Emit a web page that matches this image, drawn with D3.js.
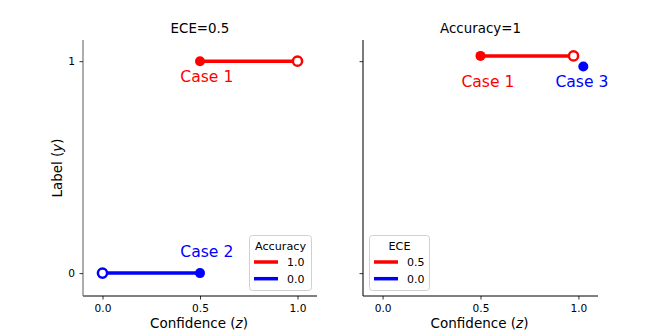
<!DOCTYPE html>
<html>
<head>
<meta charset="utf-8">
<script src="https://cdn.jsdelivr.net/npm/d3@7"></script>
<style>
  body { margin: 0; background: #fff; }
  text { font-family: "DejaVu Sans", sans-serif; }
</style>
</head>
<body>
<svg id="chart" width="664" height="332"></svg>
<script>
// left panel: ECE=0.5
const leftSegments = [
  { x0: 0.5, x1: 1.0, y: 1, color: 'red' },
  { x0: 0.5, x1: 0.0, y: 0, color: 'blue' }
]
const leftLabels = [
  { text: 'Case 1', x: 0.535, y: 0.9, color: 'red' },
  { text: 'Case 2', x: 0.535, y: 0.075, color: 'blue' }
]
const leftLegend = { title: 'Accuracy', labels: ['1.0', '0.0'], colors: ['red', 'blue'] }

// right panel: Accuracy=1
const rightSegments = [
  { x0: 0.5, x1: 0.975, y: 1.025, color: 'red' }
]
const rightPoints = [{ x: 1.025, y: 0.975, color: 'blue' }]
const rightLabels = [
  { text: 'Case 1', x: 0.538, y: 0.88, color: 'red' },
  { text: 'Case 3', x: 1.018, y: 0.88, color: 'blue' }
]
const rightLegend = { title: 'ECE', labels: ['0.5', '0.0'], colors: ['red', 'blue'] }

const xTicks = [0, 0.5, 1.0]
const yTicks = [0, 1]

const svg = d3.select('#chart')
const plotTop = 40, plotBottom = 296
const panels = [
  { left: 83, right: 317, title: 'ECE=0.5', spine: '#777' },
  { left: 363, right: 598, title: 'Accuracy=1', spine: '#222' }
]

function drawPanel(p, showYLabels) {
  const x = d3.scaleLinear().domain([-0.1, 1.1]).range([p.left, p.right])
  const y = d3.scaleLinear().domain([-0.108, 1.1]).range([plotBottom, plotTop])
  const g = svg.append('g')

  const xa = g.append('g')
    .attr('transform', `translate(0,${plotBottom})`)
    .call(d3.axisBottom(x).tickValues(xTicks).tickFormat(d3.format('.1f')).tickSize(3.5).tickPadding(5))
  const ya = g.append('g')
    .attr('transform', `translate(${p.left},0)`)
    .call(d3.axisLeft(y).tickValues(yTicks).tickFormat(showYLabels ? d3.format('d') : '').tickSize(3.5).tickPadding(4.5))
  ;[xa, ya].forEach(a => {
    a.selectAll('text').attr('font-size', '10.6px').attr('fill', '#000').style('font-family', 'DejaVu Sans')
    a.selectAll('line').attr('stroke', '#000').attr('stroke-width', 0.8)
  })
  xa.select('.domain').attr('stroke', '#000').attr('stroke-width', 1)
  ya.select('.domain').attr('stroke', p.spine).attr('stroke-width', 1.2)
  ya.select('.domain').attr('d', `M0,${plotTop}V${plotBottom}`)
  xa.select('.domain').attr('d', `M${p.left},0H${p.right}`)

  g.append('text')
    .attr('x', (p.left + p.right) / 2).attr('y', 32.5)
    .attr('text-anchor', 'middle').attr('font-size', '13.4px')
    .text(p.title)

  const xl = g.append('text')
    .attr('x', (p.left + p.right) / 2 - 1).attr('y', 328)
    .attr('text-anchor', 'middle').attr('font-size', '13.5px')
  xl.append('tspan').text('Confidence (')
  xl.append('tspan').attr('font-style', 'italic').text('z')
  xl.append('tspan').text(')')

  return { g, x, y }
}

function drawSegments(c, segs) {
  segs.forEach(s => {
    c.g.append('line')
      .attr('x1', c.x(s.x0)).attr('x2', c.x(s.x1))
      .attr('y1', c.y(s.y)).attr('y2', c.y(s.y))
      .attr('stroke', s.color).attr('stroke-width', 3.5)
    c.g.append('circle')
      .attr('cx', c.x(s.x0)).attr('cy', c.y(s.y)).attr('r', 5)
      .attr('fill', s.color)
    c.g.append('circle')
      .attr('cx', c.x(s.x1)).attr('cy', c.y(s.y)).attr('r', 4.6)
      .attr('fill', '#fff').attr('stroke', s.color).attr('stroke-width', 2.5)
  })
}

function drawLabels(c, labels) {
  labels.forEach(l => {
    c.g.append('text').attr('x', c.x(l.x)).attr('y', c.y(l.y))
      .attr('text-anchor', 'middle').attr('font-size', '15.6px').attr('fill', l.color).text(l.text)
  })
}

function drawLegend(c, leg, lx, ly, w) {
  const lg = c.g.append('g').attr('transform', `translate(${lx},${ly})`)
  lg.append('rect').attr('x', 0.5).attr('y', 0.5).attr('width', w).attr('height', 55).attr('rx', 3)
    .attr('fill', '#fff').attr('fill-opacity', 0.8).attr('stroke', '#d0d0d0').attr('stroke-width', 1)
  lg.append('text').attr('x', w / 2 + 0.5).attr('y', 14.5).attr('text-anchor', 'middle')
    .attr('font-size', '11.2px').text(leg.title)
  leg.labels.forEach((l, i) => {
    const yy = 27 + i * 16.7
    lg.append('line').attr('x1', 5).attr('x2', 29).attr('y1', yy).attr('y2', yy)
      .attr('stroke', leg.colors[i]).attr('stroke-width', 3.5)
    lg.append('text').attr('x', 38).attr('y', yy + 4).attr('font-size', '11px').text(l)
  })
}

// left
const L = drawPanel(panels[0], true)
drawSegments(L, leftSegments)
drawLabels(L, leftLabels)
drawLegend(L, leftLegend, 249, 235, 62)

// right
const R = drawPanel(panels[1], false)
drawSegments(R, rightSegments)
rightPoints.forEach(p => {
  R.g.append('circle').attr('cx', R.x(p.x)).attr('cy', R.y(p.y)).attr('r', 5).attr('fill', p.color)
})
drawLabels(R, rightLabels)
drawLegend(R, rightLegend, 369, 235, 60)

// y label
const yl = svg.append('text')
  .attr('transform', `translate(61.5,168)rotate(-90)`)
  .attr('text-anchor', 'middle').attr('font-size', '13.4px')
yl.append('tspan').text('Label (')
yl.append('tspan').attr('font-style', 'italic').text('y')
yl.append('tspan').text(')')
</script>
</body>
</html>
